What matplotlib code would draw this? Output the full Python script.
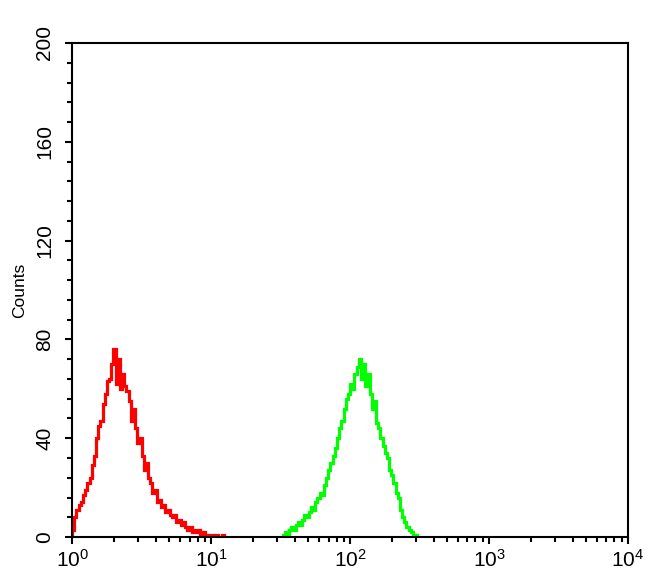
import numpy as np
import matplotlib.pyplot as plt
from matplotlib.ticker import MultipleLocator, LogLocator, FuncFormatter, NullFormatter

# channels: 64 per decade, counted from 10^0
bins_per_decade = 64

red_start = 0
red_counts = [3, 8, 11, 13, 14, 17, 19, 22, 24, 29, 33, 40, 45, 47, 54, 58, 63,
              64, 70, 76, 62, 72, 60, 66, 61, 59, 55, 47, 52, 44, 38, 40, 33, 27,
              30, 24, 22, 18, 19, 14, 15, 12, 13, 10, 11, 9, 8, 9, 6, 7, 5, 6, 4,
              3, 4, 2, 3, 2, 3, 1, 2, 1, 0, 1, 1, 0, 1, 0, 0, 1, 0]

green_start = 97
green_counts = [1, 2, 1, 3, 4, 3, 5, 6, 5, 7, 9, 8, 10, 12, 11, 14, 16, 18, 17,
                21, 24, 27, 30, 33, 36, 40, 44, 47, 52, 56, 58, 62, 60, 66, 69,
                72, 64, 70, 61, 66, 58, 52, 55, 46, 44, 40, 37, 34, 32, 27, 25,
                22, 18, 16, 11, 8, 6, 4, 3, 2, 1, 1, 0]


def edges(start, n):
    return 10 ** ((start + np.arange(n + 1)) / bins_per_decade)


def main():
    plt.rcParams['font.family'] = ['Liberation Sans', 'DejaVu Sans']
    plt.rcParams['mathtext.fontset'] = 'custom'
    plt.rcParams['mathtext.rm'] = 'Liberation Sans'

    fig = plt.figure(figsize=(6.5, 5.85), dpi=100)
    ax = fig.add_axes([0.111, 0.082, 0.855, 0.8445])

    ax.stairs(red_counts, edges(red_start, len(red_counts)), color="#ff0000", linewidth=2.3)
    ax.stairs(green_counts, edges(green_start, len(green_counts)), color="#00ff00", linewidth=2.3)

    ax.set_xscale("log")
    ax.set_xlim(1, 10 ** 4)
    ax.set_ylim(0, 200)

    ax.xaxis.set_major_locator(LogLocator(base=10, numticks=10))
    ax.xaxis.set_minor_locator(LogLocator(base=10, subs=np.arange(2, 10), numticks=20))
    ax.xaxis.set_minor_formatter(NullFormatter())
    ax.xaxis.set_major_formatter(FuncFormatter(lambda v, p: r"$\mathregular{10^{%d}}$" % round(np.log10(v))))

    ax.yaxis.set_major_locator(MultipleLocator(40))
    ax.yaxis.set_minor_locator(MultipleLocator(8))

    for s in ax.spines.values():
        s.set_linewidth(1.5)
    ax.tick_params(which="major", direction="out", length=5, width=1.5, labelsize=15)
    ax.tick_params(axis="y", which="major", pad=8)
    ax.tick_params(which="minor", direction="out", length=3.5, width=1.5)
    for lab in ax.get_yticklabels():
        lab.set_rotation(90)
        lab.set_va("center")

    ax.set_ylabel("Counts", fontsize=12.5, labelpad=6)

    plt.savefig("out.png", dpi=100)


if __name__ == "__main__":
    main()
